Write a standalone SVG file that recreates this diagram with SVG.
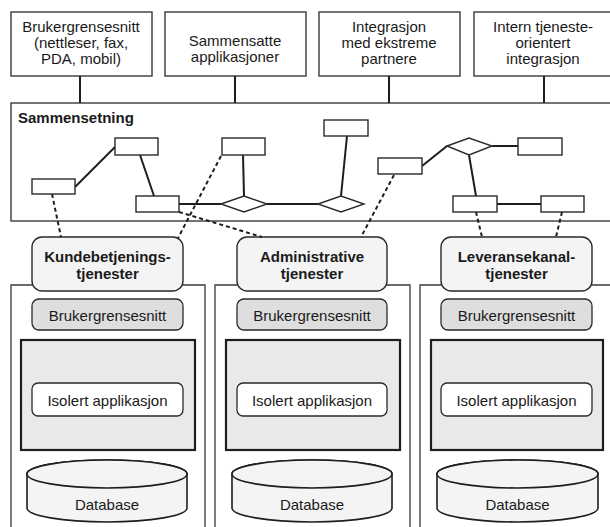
<svg xmlns="http://www.w3.org/2000/svg" width="610" height="527" viewBox="0 0 610 527">
  <style>
    .box { fill: #ffffff; stroke: #3a3a3a; stroke-width: 1.4; }
    .panel { fill: none; stroke: #3a3a3a; stroke-width: 1.3; }
    .tab { fill: #f4f4f4; stroke: #2a2a2a; stroke-width: 1.4; }
    .ui { fill: #dedede; stroke: #2a2a2a; stroke-width: 1.3; }
    .app { fill: #e9e9e9; stroke: #1e1e1e; stroke-width: 2.2; }
    .iso { fill: #ffffff; stroke: #2a2a2a; stroke-width: 1.3; }
    .db { fill: #f4f4f4; stroke: #1e1e1e; stroke-width: 1.6; }
    .el { fill: #ffffff; stroke: #2a2a2a; stroke-width: 1.4; }
    .link { fill: none; stroke: #1e1e1e; stroke-width: 2; }
    .dash { fill: none; stroke: #1e1e1e; stroke-width: 2; stroke-dasharray: 4 3; }
    .t { font-family: "Liberation Sans", Arial, sans-serif; font-size: 15px; fill: #1a1a1a; text-anchor: middle; }
    .b { font-weight: bold; }
  </style>

  <!-- channel boxes along the top -->
  <g id="channel-ui">
    <rect class="box" x="11" y="12" width="141" height="64"/>
    <text class="t" x="81" y="32">Brukergrensesnitt</text>
    <text class="t" x="81" y="48">(nettleser, fax,</text>
    <text class="t" x="81" y="64">PDA, mobil)</text>
  </g>
  <g id="channel-composite">
    <rect class="box" x="165" y="12" width="141" height="64"/>
    <text class="t" x="235" y="46">Sammensatte</text>
    <text class="t" x="235" y="62">applikasjoner</text>
  </g>
  <g id="channel-partners">
    <rect class="box" x="319" y="12" width="141" height="64"/>
    <text class="t" x="389" y="32">Integrasjon</text>
    <text class="t" x="389" y="48">med ekstreme</text>
    <text class="t" x="389" y="64">partnere</text>
  </g>
  <g id="channel-internal">
    <rect class="box" x="474" y="12" width="141" height="64"/>
    <text class="t" x="543" y="32">Intern tjeneste-</text>
    <text class="t" x="543" y="48">orientert</text>
    <text class="t" x="543" y="64">integrasjon</text>
  </g>

  <!-- composition layer -->
  <g id="composition">
    <rect class="box" x="11" y="103" width="604" height="118"/>
    <text class="t b" x="18" y="123" style="text-anchor:start">Sammensetning</text>
  </g>

  <!-- service columns -->
  <g id="col-customer">
    <path class="panel" d="M11,527 V285 H205 V527"/>
    <rect class="tab" x="32" y="237" width="151" height="54" rx="10"/>
    <text class="t b" x="107.5" y="262">Kundebetjenings-</text>
    <text class="t b" x="107.5" y="279">tjenester</text>
    <rect class="ui" x="32" y="299" width="151" height="31" rx="7"/>
    <text class="t" x="107.5" y="321">Brukergrensesnitt</text>
    <rect class="app" x="21" y="340" width="174" height="110"/>
    <rect class="iso" x="32" y="383" width="151" height="33" rx="6"/>
    <text class="t" x="107.5" y="406">Isolert applikasjon</text>
    <path class="db" d="M27,474 V508 A80,14 0 0 0 187,508 V474 A80,14 0 0 0 27,474 Z"/>
    <ellipse class="db" cx="107" cy="474" rx="80" ry="14"/>
    <text class="t" x="107" y="510">Database</text>
  </g>
  <g id="col-admin">
    <path class="panel" d="M215,527 V285 H410 V527"/>
    <rect class="tab" x="237" y="237" width="150" height="54" rx="10"/>
    <text class="t b" x="312" y="262">Administrative</text>
    <text class="t b" x="312" y="279">tjenester</text>
    <rect class="ui" x="237" y="299" width="150" height="31" rx="7"/>
    <text class="t" x="312" y="321">Brukergrensesnitt</text>
    <rect class="app" x="226" y="340" width="174" height="110"/>
    <rect class="iso" x="237" y="383" width="150" height="33" rx="6"/>
    <text class="t" x="312" y="406">Isolert applikasjon</text>
    <path class="db" d="M232,474 V508 A80,14 0 0 0 392,508 V474 A80,14 0 0 0 232,474 Z"/>
    <ellipse class="db" cx="312" cy="474" rx="80" ry="14"/>
    <text class="t" x="312" y="510">Database</text>
  </g>
  <g id="col-delivery">
    <path class="panel" d="M420,527 V285 H615 V527"/>
    <rect class="tab" x="441" y="237" width="151" height="54" rx="10"/>
    <text class="t b" x="516.5" y="262">Leveransekanal-</text>
    <text class="t b" x="516.5" y="279">tjenester</text>
    <rect class="ui" x="441" y="299" width="151" height="31" rx="7"/>
    <text class="t" x="516.5" y="321">Brukergrensesnitt</text>
    <rect class="app" x="431" y="340" width="172" height="110"/>
    <rect class="iso" x="441" y="383" width="151" height="33" rx="6"/>
    <text class="t" x="516.5" y="406">Isolert applikasjon</text>
    <path class="db" d="M437,474 V508 A80.5,14 0 0 0 598,508 V474 A80.5,14 0 0 0 437,474 Z"/>
    <ellipse class="db" cx="517.5" cy="474" rx="80.5" ry="14"/>
    <text class="t" x="517.5" y="510">Database</text>
  </g>

  <!-- connectors -->
  <g id="connectors">
    <!-- channels to composition -->
    <line class="link" x1="80" y1="76" x2="80" y2="103"/>
    <line class="link" x1="235" y1="76" x2="235" y2="103"/>
    <line class="link" x1="389" y1="76" x2="389" y2="103"/>
    <line class="link" x1="544" y1="76" x2="544" y2="103"/>

    <!-- process flow inside composition -->
    <line class="link" x1="75" y1="187" x2="115" y2="147"/>
    <line class="link" x1="140" y1="155" x2="154" y2="196"/>
    <line class="link" x1="179" y1="204" x2="221" y2="204"/>
    <line class="link" x1="243" y1="155" x2="244" y2="196"/>
    <line class="link" x1="267" y1="204" x2="318" y2="204"/>
    <line class="link" x1="347" y1="136" x2="341" y2="196"/>
    <line class="link" x1="422" y1="166" x2="447" y2="146"/>
    <line class="link" x1="492" y1="146" x2="518" y2="146"/>
    <line class="link" x1="469" y1="155" x2="476" y2="196"/>
    <line class="link" x1="497" y1="204" x2="541" y2="204"/>

    <!-- composition elements to services -->
    <line class="dash" x1="52" y1="194" x2="61" y2="237"/>
    <line class="dash" x1="221" y1="156" x2="178" y2="238"/>
    <line class="dash" x1="179" y1="212" x2="262" y2="237"/>
    <line class="dash" x1="394" y1="175" x2="361" y2="237"/>
    <line class="dash" x1="476" y1="212" x2="482" y2="237"/>
    <line class="dash" x1="562" y1="212" x2="556" y2="237"/>
  </g>

  <!-- composition elements -->
  <g id="flow-elements">
    <rect class="el" x="32" y="179" width="43" height="15"/>
    <rect class="el" x="115" y="138" width="43" height="17"/>
    <rect class="el" x="136" y="196" width="43" height="16"/>
    <rect class="el" x="222" y="138" width="43" height="17"/>
    <polygon class="el" points="221,204 244,196 267,204 244,212"/>
    <rect class="el" x="324" y="120" width="44" height="16"/>
    <polygon class="el" points="318,204 341,196 364,204 341,212"/>
    <rect class="el" x="378" y="158" width="44" height="16"/>
    <polygon class="el" points="447,146 469,138 492,146 469,155"/>
    <rect class="el" x="518" y="138" width="44" height="17"/>
    <rect class="el" x="453" y="196" width="44" height="16"/>
    <rect class="el" x="541" y="196" width="43" height="16"/>
  </g>
</svg>
